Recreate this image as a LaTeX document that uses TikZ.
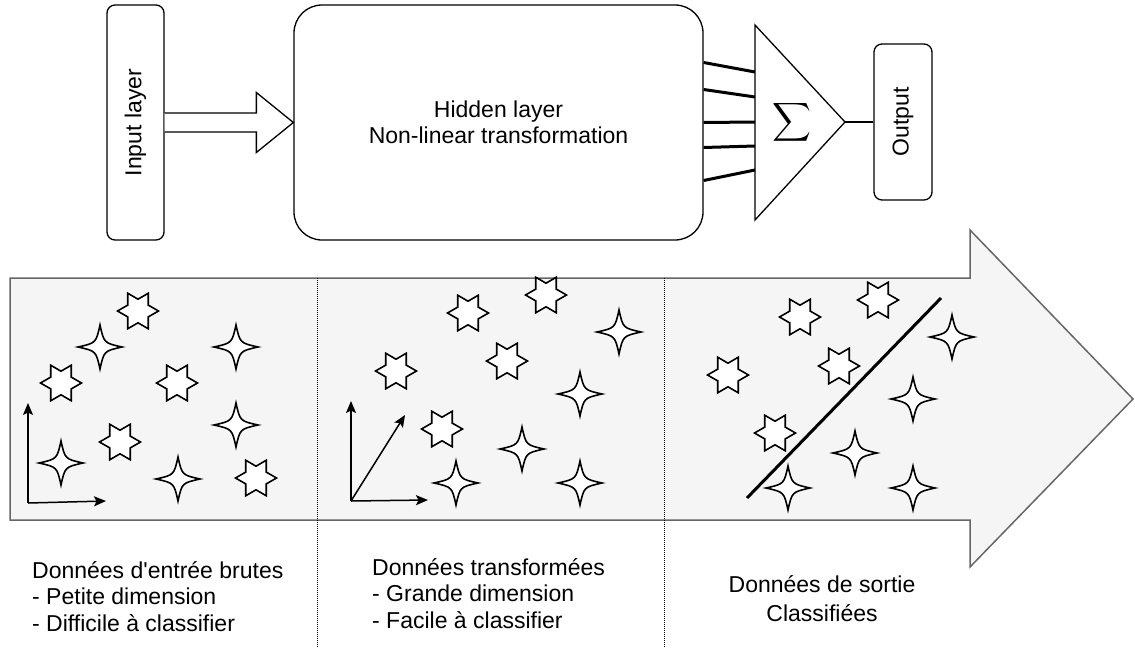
\documentclass[tikz,border=0pt]{standalone}
\usepackage{amsmath}
\usepackage{fontspec}
\setmainfont{Liberation Sans}
\usepackage{tikz}
\usetikzlibrary{calc,arrows.meta}
\definecolor{PanelGray}{RGB}{245,245,245}
\definecolor{EdgeGray}{RGB}{102,102,102}
\tikzset{
  box/.style={draw=black,line width=1.3pt,rounded corners=8pt,inner sep=0pt,fill=white},
  txt/.style={font=\fontsize{23}{26.5}\selectfont,inner sep=0pt},
  wire/.style={draw=black,line width=3pt},
  axis/.style={draw=black,line width=1.5pt,-{Stealth[length=12pt,width=10pt,inset=2.5pt]}},
  sep/.style={draw=black,line width=1pt,dash pattern=on 1pt off 1pt},
  starline/.style={draw=black,fill=white,line width=1.6pt},
  hexstar/.pic={\draw[starline] (0:20.5) \foreach \k in {60,120,...,360}{-- (\k-30:11.8) -- (\k:20.5)} -- cycle;},
  fourstar/.pic={\draw[starline] (0:22) .. controls (4,4) .. (90:22) .. controls (-4,4) .. (180:22) .. controls (-4,-4) .. (270:22) .. controls (4,-4) .. (0:22) -- cycle;},
}
\begin{document}
\begin{tikzpicture}[x=1pt,y=-1pt]
\useasboundingbox (0,0) rectangle (1135,648);
\node[box,txt,minimum width=57pt,minimum height=235pt](inp) at (135.5,122.5){\rotatebox{90}{Input layer}};
\node[box,txt,minimum width=409pt,minimum height=235pt,rounded corners=28pt,align=center](hid) at (498.5,122.5){Hidden layer\\Non-linear transformation};
\node[box,txt,minimum width=58pt,minimum height=156pt](out) at (903,122){\rotatebox{90}{Output}};
\draw[line width=1.3pt] (755,25) -- (845,122) -- (755,220) -- cycle;
\coordinate (sumin) at (755,122);\coordinate (sumout) at (845,122);
\node[inner sep=0pt](sig) at (792,122){\scalebox{2.7}{$\displaystyle\sum$}};
\draw[line width=1.3pt,fill=white] ($(inp.east)+(0,9.5)$) -- ($(hid.west)+(-37,9.5)$) -- ($(hid.west)+(-37,30)$) -- (hid.west) -- ($(hid.west)+(-37,-30)$) -- ($(hid.west)+(-37,-9.5)$) -- ($(inp.east)+(0,-9.5)$);
\foreach \a/\b in {-60/-50,-33/-25,0/0,25/24,58/48} \draw[wire] ($(hid.east)+(0,\a)$) -- ($(sumin)+(0,\b)$);
\draw[line width=1.3pt] (sumout) -- (out);

\draw[draw=EdgeGray,fill=PanelGray,line width=1.5pt] (10,278) -- (970,278) -- (970,230) -- (1133,399) -- (970,567) -- (970,520) -- (10,520) -- cycle;
\coordinate (d1t) at (317,278);\coordinate (d1b) at (317,648);\coordinate (d2t) at (664,278);\coordinate (d2b) at (664,648);
\draw[sep] (d1t) -- (d1b);\draw[sep] (d2t) -- (d2b);

\foreach \x/\y in {138/311,61/383,177/383,120/442,256/478,468/313,546/295,396/371,507/361,442/429,800/317,878/300,728/375,839/366,775/433}
  \path (\x,\y) pic {hexstar};
\foreach \x/\y in {100/347,236/347,236/425,61/463,178/479,619/332,580/394,522/449,456/483,580/483,952/337,913/399,855/453,788/488,913/488}
  \path (\x,\y) pic {fourstar};

\coordinate (o1) at (28,503);\coordinate (y1) at (28,403);\coordinate (x1) at (106,501);
\draw[axis] (o1) -- (y1);\draw[axis] (o1) -- (x1);
\coordinate (o2) at (351,501);\coordinate (y2) at (351,401);\coordinate (x2) at (428,500);\coordinate (z2) at (405,415);
\draw[axis] (o2) -- (y2);\draw[axis] (o2) -- (x2);\draw[axis] (o2) -- (z2);
\coordinate (s1) at (747,498);\coordinate (s2) at (941,298);
\draw[line width=3pt] (s1) -- (s2);

\node[txt,align=left,anchor=north west](t1) at (32,561){Donn\'ees d\textquotesingle entr\'ee brutes\\- Petite dimension\\- Difficile \`a classifier};
\node[txt,align=left,anchor=north west](t2) at (372,558){Donn\'ees transform\'ees\\- Grande dimension\\- Facile \`a classifier};
\node[txt,align=center,anchor=north](t3) at (822,575){Donn\'ees de sortie\\[3pt]Classifi\'ees};
\end{tikzpicture}
\end{document}
